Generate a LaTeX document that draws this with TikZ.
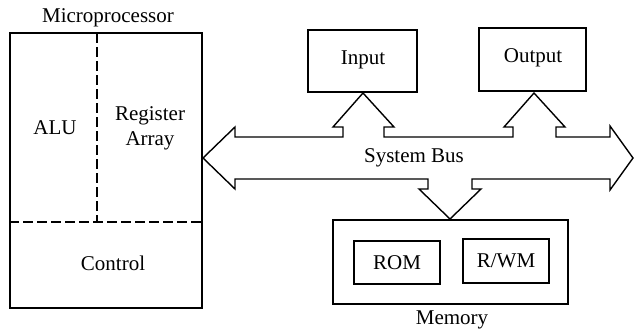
\documentclass[tikz,border=0pt]{standalone}
\usepackage{fontspec}
\setmainfont{Liberation Serif}
\begin{document}
\begin{tikzpicture}[x=1pt,y=-1pt,
  every node/.style={font=\fontsize{21}{25}\selectfont, inner sep=0pt},
  bigbox/.style={draw, line width=2pt, minimum width=#1},
  smallbox/.style={draw, line width=1.6pt},
  divider/.style={line width=1.3pt, dash pattern=on 10pt off 4pt},
  bus/.style={draw, line width=1.4pt, line join=miter}]
\useasboundingbox (0,0) rectangle (634,329);
% Microprocessor
\node[bigbox=192pt, minimum height=275pt] (mp) at (106,170.5) {};
\node (mplabel) at (108,18) {Microprocessor};
\coordinate (dv) at (97,33);
\coordinate (dh) at (97,222);
\draw[divider] (dv) -- (dh);
\draw[divider] (mp.west |- dh) -- (mp.east |- dh);
\node (alu) at (55,128) {ALU};
\node[align=center] (reg) at (150,128) {Register\\Array};
\node (ctrl) at (113,263) {Control};
% I/O
\node[bigbox=109pt, minimum height=62pt] (in) at (362.5,61) {};
\node (intext) at (363,60) {Input};
\node[bigbox=107pt, minimum height=63pt] (out) at (532.5,59.5) {};
\node (outtext) at (533,58) {Output};
% Memory
\node[bigbox=235pt, minimum height=84pt] (mem) at (450.5,262) {};
\node[smallbox, minimum width=86pt, minimum height=43pt] (rom) at (397,262.5) {ROM};
\node[smallbox, minimum width=86pt, minimum height=44pt] (rwm) at (506,261) {R/WM};
\node (memlabel) at (452,320) {Memory};
% System bus
\coordinate (ltip) at (203,158);
\coordinate (rtip) at (633,158);
\coordinate (intip) at (363,93);
\coordinate (outtip) at (534,93);
\coordinate (memtip) at (450,219);
\draw[bus] (ltip) -- (235,127) -- (235,137) -- (343,137) -- (343,127) -- (333,127)
  -- (intip) -- (394,127) -- (384,127) -- (384,137) -- (513,137) -- (513,127)
  -- (504,127) -- (outtip) -- (565,127) -- (556,127) -- (556,137) -- (610,137)
  -- (610,126) -- (rtip) -- (610,190) -- (610,179) -- (472,179) -- (472,189)
  -- (481,189) -- (memtip) -- (419,189) -- (428,189) -- (428,179) -- (235,179)
  -- (235,189) -- cycle;
\node (buslabel) at (414,158) {System Bus};
\end{tikzpicture}
\end{document}
